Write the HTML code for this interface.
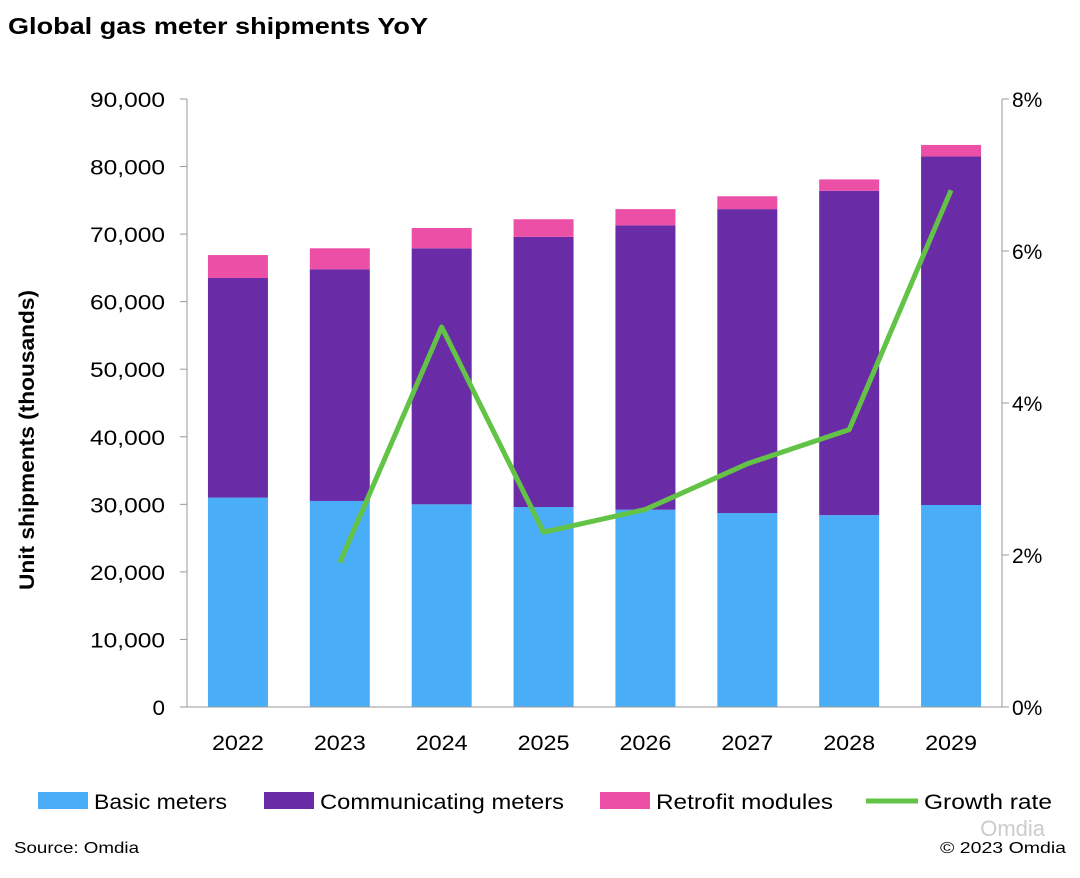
<!DOCTYPE html>
<html><head><meta charset="utf-8"><style>
body{margin:0;background:#fff;font-family:"Liberation Sans",sans-serif;}
</style></head><body>
<svg width="1080" height="873" xmlns="http://www.w3.org/2000/svg" font-family="Liberation Sans, sans-serif">
<text x="8" y="34" font-size="23" font-weight="bold" fill="#000" textLength="420" lengthAdjust="spacingAndGlyphs">Global gas meter shipments YoY</text>
<g id="plot"></g>
<text transform="translate(34,440) rotate(-90)" text-anchor="middle" font-size="21" font-weight="bold" textLength="300" lengthAdjust="spacingAndGlyphs">Unit shipments (thousands)</text>
<g font-size="21">
<rect x="38" y="792" width="50" height="17" fill="#4aadf7"/>
<text x="94" y="809" textLength="133" lengthAdjust="spacingAndGlyphs">Basic meters</text>
<rect x="264" y="792" width="50" height="17" fill="#6a2ba6"/>
<text x="320" y="809" textLength="244" lengthAdjust="spacingAndGlyphs">Communicating meters</text>
<rect x="600" y="792" width="50" height="17" fill="#ec4fa6"/>
<text x="656" y="809" textLength="177" lengthAdjust="spacingAndGlyphs">Retrofit modules</text>
<line x1="866" y1="801" x2="918" y2="801" stroke="#63c347" stroke-width="5"/>
<text x="924" y="809" textLength="128" lengthAdjust="spacingAndGlyphs">Growth rate</text>
</g>
<text x="14" y="853" font-size="16" textLength="125" lengthAdjust="spacingAndGlyphs">Source: Omdia</text>
<text x="940" y="853" font-size="16" textLength="126" lengthAdjust="spacingAndGlyphs">© 2023 Omdia</text>
<text x="1045" y="836" font-size="22" text-anchor="end" fill="#ccc">Omdia</text>
</svg>
<script>
const years=["2022","2023","2024","2025","2026","2027","2028","2029"];
const basic=[31000,30500,30000,29600,29200,28700,28400,29900];
const communicating=[32500,34300,37900,40000,42100,45000,48000,51600];
const retrofit=[3400,3100,3000,2600,2400,1900,1700,1700];
const growth=[null,1.9,5.0,2.3,2.6,3.2,3.65,6.8];
const leftTicks=[0,10000,20000,30000,40000,50000,60000,70000,80000,90000];
const rightTicks=[0,2,4,6,8];
const NS="http://www.w3.org/2000/svg";
const g=document.getElementById('plot');
const x0=187,x1=1002,yB=707,yT=99;
const yL=v=>yB-(v/90000)*(yB-yT);
const yR=v=>yB-(v/8)*(yB-yT);
const step=(x1-x0)/years.length;
const xc=i=>x0+step*(i+0.5);
function mk(t,a){const e=document.createElementNS(NS,t);for(const k in a)e.setAttribute(k,a[k]);g.appendChild(e);return e;}
leftTicks.forEach(v=>{
 const s=v.toLocaleString('en-US');
 const t=mk('text',{x:165,y:yL(v)+8,'text-anchor':'end','font-size':21,textLength:s.length*12.5,lengthAdjust:'spacingAndGlyphs'});
 
 
 t.textContent=s;
 const l=mk('line',{x1:180,x2:187,y1:yL(v),y2:yL(v),stroke:'#999'});
 
 
});
rightTicks.forEach(v=>{
 const t=mk('text',{x:1012,y:yR(v)+8,'font-size':21});
 
 
 t.textContent=v+'%';
 const l=mk('line',{x1:1002,x2:1009,y1:yR(v),y2:yR(v),stroke:'#999'});
 
 
});
years.forEach((y,i)=>{
 const bw=60,bx=xc(i)-bw/2;
 let base=0;
 [[basic,'#4aadf7','bar-basic'],[communicating,'#6a2ba6','bar-communicating'],[retrofit,'#ec4fa6','bar-retrofit']].forEach(([arr,c,n])=>{
  const r=mk('rect',{x:bx,y:yL(base+arr[i]),width:bw,height:yL(base)-yL(base+arr[i]),fill:c});
  
  
  base+=arr[i];
 });
 const t=mk('text',{x:xc(i),y:750,'text-anchor':'middle','font-size':21,textLength:52,lengthAdjust:'spacingAndGlyphs'});
 
 
 t.textContent=y;
});
const ax=mk('path',{d:`M${x0},${yT}V${yB}H${x1}V${yT}`,fill:'none',stroke:'#999'});


const pts=growth.map((v,i)=>v==null?null:`${xc(i)},${yR(v)}`).filter(p=>p);
const ln=mk('polyline',{points:pts.join(' '),fill:'none',stroke:'#63c347','stroke-width':5,'stroke-linejoin':'round'});


</script>
</body></html>
